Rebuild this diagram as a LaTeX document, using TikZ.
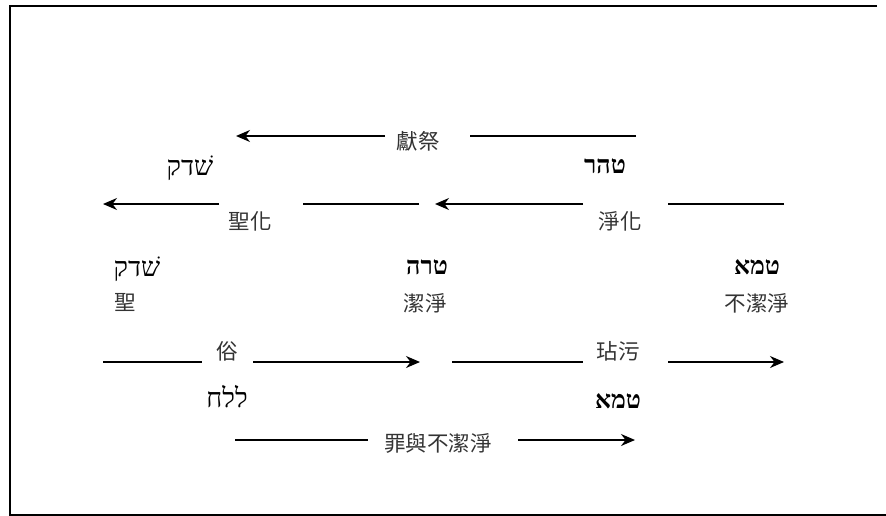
\documentclass[tikz,border=0pt]{standalone}
\usepackage{fontspec}
\usetikzlibrary{arrows.meta}
\TeXXeTstate=1
\newfontfamily\cjk{Noto Sans CJK TC}
\newfontfamily\hebfont[Script=Hebrew]{Liberation Serif}
\tikzset{
  cjklabel/.style={font=\cjk\fontsize{21.5}{23}\selectfont, inner sep=0pt, text=black!80},
  heblabel/.style={font=\hebfont\fontsize{27}{29}\selectfont, inner sep=0pt},
  hebbold/.style={font=\hebfont\bfseries\fontsize{25}{27}\selectfont, inner sep=0pt},
  seg/.style={line width=1.6pt},
  arr/.style={line width=1.6pt, -{Stealth[length=14pt,width=12pt]}},
  frame/.style={line width=2pt}
}
\begin{document}
\begin{tikzpicture}[x=1pt,y=-1pt]
\useasboundingbox (0,0) rectangle (886,516);
% frame (top, left, bottom)
\coordinate (ftr) at (877,6);
\coordinate (ftl) at (10,6);
\coordinate (fbl) at (10,515);
\coordinate (fbr) at (886,515);
\draw[frame] (ftr) -- (ftl) -- (fbl) -- (fbr);

% labels
\node[cjklabel] (xianji) at (418,141) {獻祭};
\node[hebbold] (tahor1) at (605,166) {\beginR טהר\endR};
\node[heblabel] (qadosh1) at (190,168) {\beginR שׁדק\endR};
\node[cjklabel] (shenghua) at (250,221) {聖化};
\node[cjklabel] (jinghua) at (620,221) {淨化};
\node[heblabel] (qadosh2) at (137,269) {\beginR שׁדק\endR};
\node[cjklabel] (sheng) at (125,303) {聖};
\node[hebbold] (tahor2) at (427,267) {\beginR טרה\endR};
\node[cjklabel] (jiejing) at (425,303) {潔淨};
\node[hebbold] (tame1) at (757,267) {\beginR טמא\endR};
\node[cjklabel] (bujiejing) at (757,303) {不潔淨};
\node[cjklabel] (su) at (227,351) {俗};
\node[cjklabel] (dianwu) at (618,351) {玷污};
\node[heblabel] (chalal) at (227,397) {\beginR ללח\endR};
\node[hebbold] (tame2) at (618,401) {\beginR טמא\endR};
\node[cjklabel] (zui) at (438,443) {罪與不潔淨};

% row 1
\coordinate (r1a) at (636,136);
\coordinate (r1b) at (470,136);
\coordinate (r1c) at (385,136);
\coordinate (r1d) at (236,136);
\draw[seg] (r1a) -- (r1b);
\draw[arr] (r1c) -- (r1d);

% row 2
\coordinate (r2a) at (784,204);
\coordinate (r2b) at (668,204);
\coordinate (r2c) at (583,204);
\coordinate (r2d) at (435,204);
\coordinate (r2e) at (419,204);
\coordinate (r2f) at (303,204);
\coordinate (r2g) at (219,204);
\coordinate (r2h) at (103,204);
\draw[seg] (r2a) -- (r2b);
\draw[arr] (r2c) -- (r2d);
\draw[seg] (r2e) -- (r2f);
\draw[arr] (r2g) -- (r2h);

% row 4
\coordinate (r4a) at (103,362);
\coordinate (r4b) at (202,362);
\coordinate (r4c) at (253,362);
\coordinate (r4d) at (420,362);
\coordinate (r4e) at (452,362);
\coordinate (r4f) at (583,362);
\coordinate (r4g) at (668,362);
\coordinate (r4h) at (784,362);
\draw[seg] (r4a) -- (r4b);
\draw[arr] (r4c) -- (r4d);
\draw[seg] (r4e) -- (r4f);
\draw[arr] (r4g) -- (r4h);

% row 5
\coordinate (r5a) at (235,440);
\coordinate (r5b) at (368,440);
\coordinate (r5c) at (518,440);
\coordinate (r5d) at (635,440);
\draw[seg] (r5a) -- (r5b);
\draw[arr] (r5c) -- (r5d);
\end{tikzpicture}
\end{document}
